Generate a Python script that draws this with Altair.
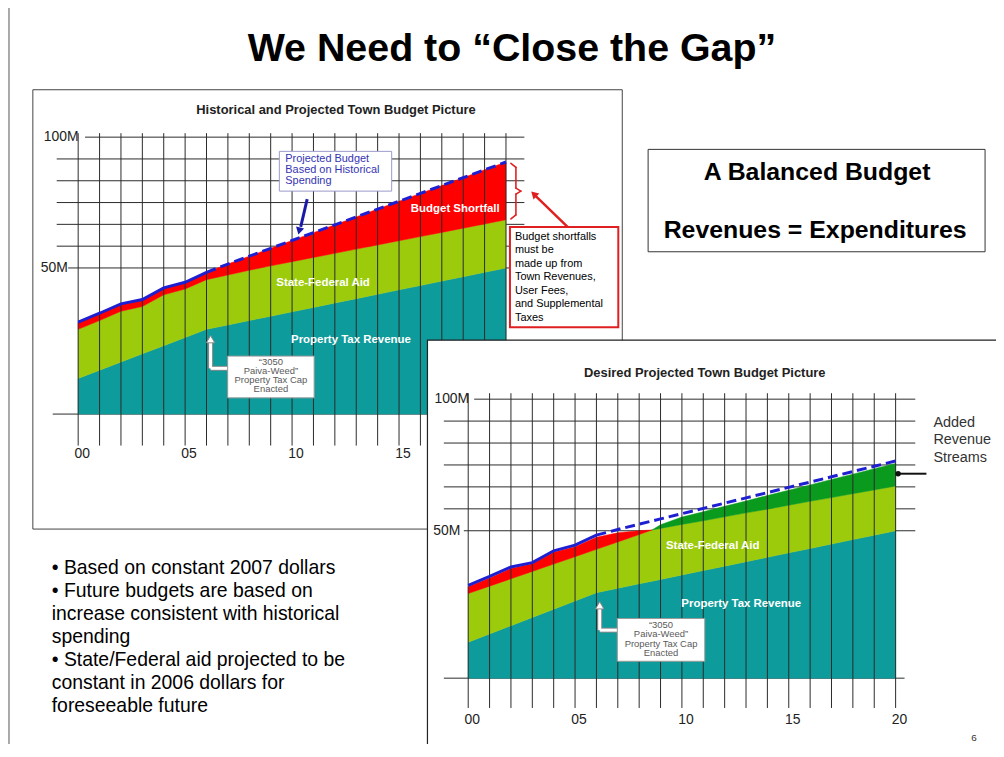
import altair as alt
import pandas as pd

# ---------------- data (values in $ millions; x = year, 00..20) ----------------
years = list(range(21))
x_tick_years = [0, 5, 10, 15, 20]
x_tick_labels = ["00", "05", "10", "15", "20"]
y_tick_values = [100, 50]
y_tick_labels = ["100M", "50M"]
grid_values = [58.33, 66.67, 75.0, 83.33, 91.67]

# Chart 1 - Historical and Projected Town Budget Picture (top edge of each band)
c1_property_tax_top = [12.2, 15.0, 17.8, 20.6, 23.4, 26.2, 29.0, 30.5, 32.0, 33.5, 35.0,
                       36.5, 38.0, 39.5, 41.0, 42.5, 44.0, 45.5, 47.0, 48.5, 50.0]
c1_state_aid_top = [29.0, 32.0, 35.2, 36.8, 40.8, 42.8, 46.0, 47.6, 49.2, 50.8, 52.4,
                    54.0, 55.6, 57.2, 58.8, 60.4, 62.0, 63.6, 65.2, 66.8, 68.4]
c1_budget = [31.5, 34.5, 37.7, 39.2, 43.2, 45.1, 48.5, 51.5, 54.5, 57.5, 60.5,
             63.5, 66.5, 69.5, 72.5, 75.5, 78.5, 81.5, 84.5, 87.5, 90.5]

# Chart 2 - Desired Projected Town Budget Picture
c2_years = [0, 1, 2, 3, 4, 5, 6, 7, 8, 8.6, 9, 10, 11, 12, 13, 14, 15, 16, 17, 18, 19, 20]
c2_property_tax_top = [12.2, 15.0, 17.8, 20.6, 23.4, 26.2, 29.0, 30.5, 32.0, 32.9, 33.5,
                       35.0, 36.5, 38.0, 39.5, 41.0, 42.5, 44.0, 45.5, 47.0, 48.5, 50.0]
c2_state_aid_top = [28.7, 31.2, 33.7, 36.2, 38.7, 41.2, 43.7, 46.2, 48.7, 50.3, 50.9,
                    52.4, 53.8, 55.3, 56.8, 58.2, 59.7, 61.2, 62.6, 64.1, 65.5, 67.0]
c2_shortfall_top = [31.0, 34.0, 37.2, 38.8, 42.7, 44.6, 47.8, 49.3, 50.0, 50.3]          # years 0 .. 8.6
c2_added_revenue_top = [50.3, 52.3, 55.2, 57.2, 59.3, 61.3, 63.4, 65.4, 67.4, 69.5,
                        71.5, 73.6, 75.6]                                                # years 8.6 .. 20
c2_budget = [31.5, 34.5, 37.7, 39.2, 43.2, 45.1, 48.5, 50.5, 52.5, 54.5, 56.5,
             58.5, 60.5, 62.5, 64.5, 66.5, 68.5, 70.5, 72.5, 74.5, 76.5]

# ---------------- styling ----------------
FONT = "Liberation Sans"
TEAL = "#0e9b9b"
LIME = "#9ccb0c"
RED = "#ff0000"
GREEN = "#0a9a1e"
BLUE = "#1f1fd2"
GRID = "#2a2a2a"
ARED = "#e02020"


def P(v):
    # page pixel -> plot pixel (the page has an 8px margin)
    return v - 8


one = pd.DataFrame({"k": [0]})
layers = []


def text(lines, x, y, size, color="#000000", weight="normal", align="center", lh=None, font=FONT):
    # y is the centre of the first line
    kw = dict(text=lines, fontSize=size, color=color, fontWeight=weight, align=align,
              baseline="middle", font=font)
    if lh is not None:
        kw["lineHeight"] = lh
    layers.append(alt.Chart(one).mark_text(**kw).encode(x=alt.value(P(x)), y=alt.value(P(y))))


def box(x1, y1, x2, y2, stroke, sw=1.0, fill="white"):
    layers.append(alt.Chart(one).mark_rect(fill=fill, stroke=stroke, strokeWidth=sw).encode(
        x=alt.value(P(x1)), x2=alt.value(P(x2)), y=alt.value(P(y1)), y2=alt.value(P(y2))))


def seg(x1, y1, x2, y2, color, sw, cap="butt"):
    layers.append(alt.Chart(one).mark_rule(color=color, strokeWidth=sw, strokeCap=cap).encode(
        x=alt.value(P(x1)), x2=alt.value(P(x2)), y=alt.value(P(y1)), y2=alt.value(P(y2))))


def head(x, y, shape, angle, color, size, stroke=None):
    kw = dict(shape=shape, angle=angle, filled=True, fill=color, size=size, opacity=1)
    if stroke:
        kw.update(stroke=stroke, strokeWidth=1)
    else:
        kw.update(strokeWidth=0)
    layers.append(alt.Chart(one).mark_point(**kw).encode(x=alt.value(P(x)), y=alt.value(P(y))))


def xscale(x0, x20):
    return alt.Scale(domain=[0, 20], range=[P(x0), P(x20)], nice=False, zero=False)


def yscale(y0, y50, y100):
    return alt.Scale(domain=[0, 50, 100], range=[P(y0), P(y50), P(y100)], nice=False, zero=False)


def band(xv, lo, hi, color, sx, sy):
    df = pd.DataFrame({"year": xv, "lo": lo, "hi": hi})
    layers.append(alt.Chart(df).mark_area(color=color, opacity=1, stroke=color, strokeWidth=0.5).encode(
        x=alt.X("year:Q", scale=sx, axis=None),
        y=alt.Y("lo:Q", scale=sy, axis=None),
        y2=alt.Y2("hi:Q")))


def bline(xv, v, sx, sy, dash=None):
    df = pd.DataFrame({"year": xv, "v": v})
    kw = dict(color=BLUE, strokeWidth=3)
    if dash:
        kw["strokeDash"] = dash
    layers.append(alt.Chart(df).mark_line(**kw).encode(
        x=alt.X("year:Q", scale=sx, axis=None), y=alt.Y("v:Q", scale=sy, axis=None)))


def vgrid(sx, top, bottom):
    layers.append(alt.Chart(pd.DataFrame({"year": years})).mark_rule(color=GRID, strokeWidth=1).encode(
        x=alt.X("year:Q", scale=sx, axis=None), y=alt.value(P(top)), y2=alt.value(P(bottom))))


def hgrid(vals, sy, left, right):
    layers.append(alt.Chart(pd.DataFrame({"v": vals})).mark_rule(color=GRID, strokeWidth=1).encode(
        y=alt.Y("v:Q", scale=sy, axis=None), x=alt.value(P(left)), x2=alt.value(P(right))))


def ylabel(val, lab, sy, right):
    layers.append(alt.Chart(pd.DataFrame({"v": [val], "t": [lab]})).mark_text(
        align="right", baseline="middle", font=FONT, fontSize=14, color="#222222").encode(
        y=alt.Y("v:Q", scale=sy, axis=None), x=alt.value(P(right)), text="t:N"))


def xlabels(sx, ypix):
    layers.append(alt.Chart(pd.DataFrame({"year": x_tick_years, "t": x_tick_labels})).mark_text(
        baseline="middle", font=FONT, fontSize=14, color="#222222", dx=4).encode(
        x=alt.X("year:Q", scale=sx, axis=None), y=alt.value(P(ypix)), text="t:N"))


def white_arrow(x, y_tip, y_corner, x_end):
    seg(x, y_corner, x, y_tip + 5, "#8a8a8a", 5)
    seg(x, y_corner, x_end, y_corner, "#8a8a8a", 5)
    seg(x, y_corner, x, y_tip + 5, "white", 3)
    seg(x, y_corner, x_end, y_corner, "white", 3)
    head(x, y_tip + 5, "triangle-up", 0, "white", 70, stroke="#8a8a8a")


def cap_box(x1, y1, x2, y2, yfirst):
    box(x1, y1, x2, y2, "#9a9a9a", 1)
    text(["\u201c3050", "Paiva-Weed\u201d", "Property Tax Cap", "Enacted"], (x1 + x2) / 2, yfirst,
         9.5, color="#5a5a5a", lh=9.3)


def brace(x, y_top, y_bot, w):
    ym = (y_top + y_bot) / 2
    seg(x - w, y_top, x, y_top + 4, ARED, 1.6, "round")
    seg(x, y_top + 4, x, ym - 3, ARED, 1.6, "round")
    seg(x, ym - 3, x + w, ym, ARED, 1.6, "round")
    seg(x + w, ym, x, ym + 3, ARED, 1.6, "round")
    seg(x, ym + 3, x, y_bot - 4, ARED, 1.6, "round")
    seg(x, y_bot - 4, x - w, y_bot, ARED, 1.6, "round")


# ---------------- slide frame and title ----------------
seg(9, 0, 9, 760, "#555555", 1)
text("We Need to \u201cClose the Gap\u201d", 515, 47, 39.6, weight="bold")

# ================= Chart 1 =================
sx1 = xscale(78.6, 509.0)
sy1 = yscale(414.3, 267.3, 135.7)
box(33, 88, 626, 530, "#444444", 1)
text("Historical and Projected Town Budget Picture", 338, 108, 13, color="#222222", weight="bold")

hgrid(grid_values, sy1, 57, 527.5)
hgrid([50], sy1, 68.5, 527.5)
hgrid([100], sy1, 85.5, 527.5)
hgrid([0], sy1, 53, 515)

zeros = [0] * len(years)
band(years, zeros, c1_property_tax_top, TEAL, sx1, sy1)
band(years, c1_property_tax_top, c1_state_aid_top, LIME, sx1, sy1)
band(years, c1_state_aid_top, c1_budget, RED, sx1, sy1)

vgrid(sx1, 131.7, 446)

bline(years[:7], c1_budget[:7], sx1, sy1)
bline(years[6:], c1_budget[6:], sx1, sy1, dash=[10, 5])

ylabel(100, "100M", sy1, 79)
ylabel(50, "50M", sy1, 68.3)
xlabels(sx1, 455)

# annotations chart 1
box(281, 150, 394, 190, "#9a9acc", 1)
text(["Projected Budget", "Based on Historical", "Spending"], 287, 157.3, 11, color="#3434b4",
     align="left", lh=11.4)
seg(309, 198, 302.5, 226, "#1a1aa8", 3)
head(301, 230, "triangle-down", 14, "#1a1aa8", 70)

text("Budget Shortfall", 458, 208, 11.5, color="white", weight="bold")
brace(519, 162, 218, 5)
seg(572, 227, 539, 195, ARED, 2.5)
head(537, 193, "triangle-up", 314, ARED, 70)
box(513, 226, 622, 327, ARED, 2)
text(["Budget shortfalls", "must be", "made up  from", "Town Revenues,", "User Fees,",
      "and Supplemental", "Taxes"], 518, 235.7, 11, align="left", lh=13.67)

text("State-Federal Aid", 325, 282, 11.5, color="white", weight="bold")
text("Property Tax Revenue", 353, 340, 11.5, color="white", weight="bold")
white_arrow(211.8, 334, 368.3, 229)
cap_box(229, 356, 316, 398, 361.7)

# ---------------- balanced budget box and bullets ----------------
box(652, 148, 991, 251, "#333333", 1)
text("A Balanced Budget", 822, 171, 25, weight="bold")
text("Revenues = Expenditures", 820, 229, 25, weight="bold")

text(["\u2022 Based on constant 2007 dollars",
      "\u2022 Future budgets are based on",
      "increase consistent with historical",
      "spending",
      "\u2022 State/Federal aid projected to be",
      "constant in 2006 dollars for",
      "foreseeable future"], 52, 569.3, 19.5, align="left", lh=23.2)

# ================= Chart 2 =================
sx2 = xscale(471.0, 901.0)
sy2 = yscale(680.0, 531.7, 399.3)
box(430, 340, 1010, 780, "#222222", 1.2)
text("Desired Projected Town Budget Picture", 709, 373, 13, color="#222222", weight="bold")

hgrid(grid_values, sy2, 446.5, 920.8)
hgrid([50], sy2, 466.6, 920.8)
hgrid([100], sy2, 477, 920.8)
hgrid([0], sy2, 446.5, 910)

zeros2 = [0] * len(c2_years)
band(c2_years, zeros2, c2_property_tax_top, TEAL, sx2, sy2)
band(c2_years, c2_property_tax_top, c2_state_aid_top, LIME, sx2, sy2)
band(c2_years[:10], c2_state_aid_top[:10], c2_shortfall_top, RED, sx2, sy2)
band(c2_years[9:], c2_state_aid_top[9:], c2_added_revenue_top, GREEN, sx2, sy2)

vgrid(sx2, 393.3, 710)

bline(years[:7], c2_budget[:7], sx2, sy2)
bline(years[6:], c2_budget[6:], sx2, sy2, dash=[10, 5])

ylabel(100, "100M", sy2, 472)
ylabel(50, "50M", sy2, 463)
xlabels(sx2, 721.7)

text("State-Federal Aid", 717, 547.3, 11.5, color="white", weight="bold")
text("Property Tax Revenue", 745.7, 605, 11.5, color="white", weight="bold")
white_arrow(603.3, 601.7, 631.7, 621)
cap_box(621, 620, 709, 663, 626.7)

text(["Added", "Revenue", "Streams"], 939, 423.3, 14.5, color="#333333", align="left", lh=17.5)
seg(903, 474.3, 932, 474.3, "#111111", 2)
head(903.5, 474.3, "circle", 0, "#111111", 30)

text("6", 980, 740, 10, color="#333333")

chart = alt.layer(*layers).resolve_scale(x="independent", y="independent").properties(
    width=994, height=736, padding=0, background="white",
    autosize=alt.AutoSizeParams(type="none"),
).configure_view(stroke=None)

chart.save("out.html", embed_options={"renderer": "svg", "actions": False})
